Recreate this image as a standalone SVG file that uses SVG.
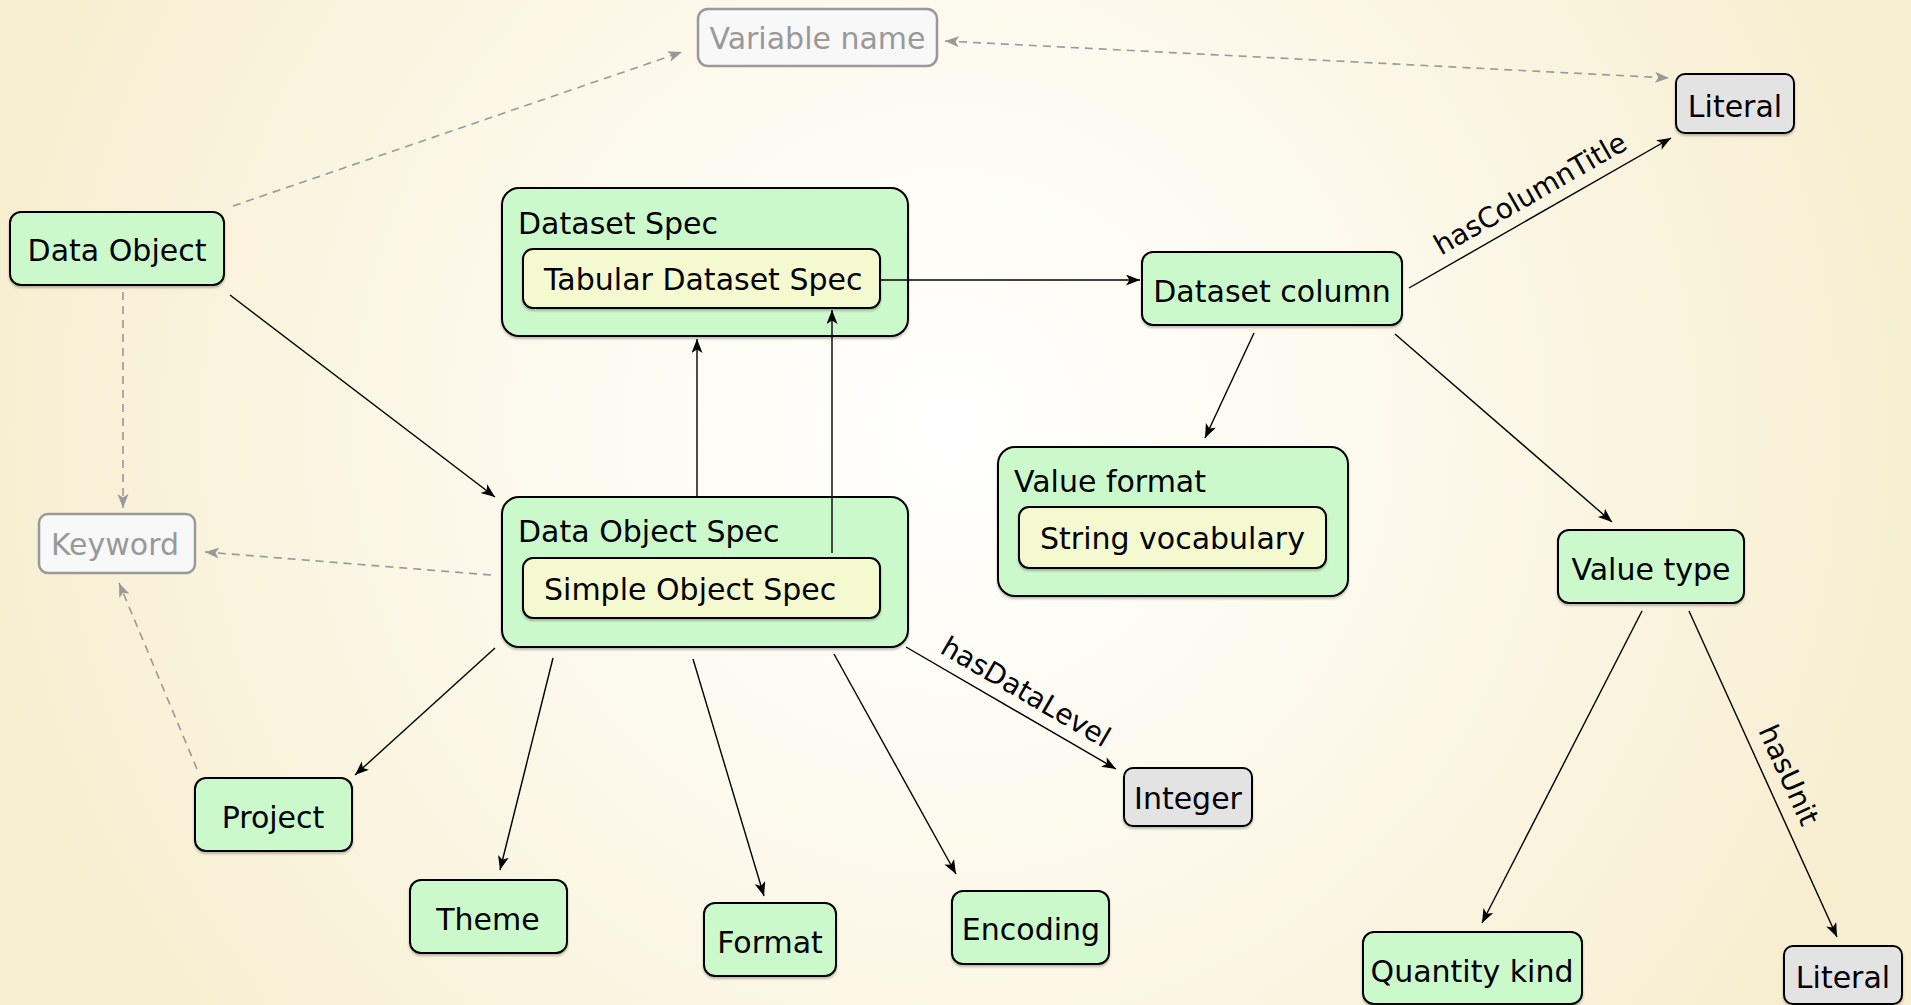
<svg xmlns="http://www.w3.org/2000/svg" width="1911" height="1005" viewBox="0 0 1911 1005">
<defs>
<radialGradient id="bg" gradientUnits="userSpaceOnUse" cx="950" cy="430" r="1000">
<stop offset="0" stop-color="#ffffff"/>
<stop offset="0.45" stop-color="#fcf9ec"/>
<stop offset="1" stop-color="#f7eecf"/>
</radialGradient>
<filter id="sh" x="-10%" y="-10%" width="120%" height="130%">
<feDropShadow dx="0" dy="2" stdDeviation="1" flood-color="#000" flood-opacity="0.25"/>
</filter>
<marker id="ah" markerUnits="userSpaceOnUse" markerWidth="16" markerHeight="12" refX="14" refY="5.5" orient="auto-start-reverse">
<path d="M0,0 L14,5.5 L0,11 L3.5,5.5 Z" fill="#000"/>
</marker>
<marker id="ag" markerUnits="userSpaceOnUse" markerWidth="16" markerHeight="12" refX="14" refY="5.5" orient="auto-start-reverse">
<path d="M0,0 L14,5.5 L0,11 L3.5,5.5 Z" fill="#999"/>
</marker>
</defs>
<style>
text{font-family:"DejaVu Sans","Liberation Sans",sans-serif;font-size:30px;fill:#000}
.lb{font-size:28px}
.g{fill:#ccf9cc;stroke:#000;stroke-width:2;filter:url(#sh)}
.y{fill:#f5f9d0;stroke:#000;stroke-width:2;filter:url(#sh)}
.l{fill:#e3e3e3;stroke:#000;stroke-width:2;filter:url(#sh)}
.v{fill:#f8f8f8;stroke:#999;stroke-width:2.5}
.vt{fill:#999}
.c{text-anchor:middle}
.e{fill:none;stroke:#000;stroke-width:1.4;marker-end:url(#ah)}
.d{fill:none;stroke:#999;stroke-width:1.6;stroke-dasharray:8 6;marker-end:url(#ag)}
</style>
<rect width="1911" height="1005" fill="url(#bg)"/>

<g id="variable-name">
<rect class="v" x="698" y="9" width="239" height="57" rx="10"/>
<text class="vt c" x="817.5" y="49">Variable name</text>
</g>
<g id="literal-top">
<rect class="l" x="1676" y="74" width="118" height="59" rx="9"/>
<text class="c" x="1735" y="117">Literal</text>
</g>
<g id="data-object">
<rect class="g" x="10" y="212" width="214" height="73" rx="11"/>
<text class="c" x="117" y="261">Data Object</text>
</g>
<g id="dataset-spec">
<rect class="g" x="502" y="188" width="406" height="148" rx="17"/>
<text x="518" y="234">Dataset Spec</text>
<g id="tabular-dataset-spec">
<rect class="y" x="523" y="249" width="357" height="59" rx="10"/>
<text x="544" y="290">Tabular Dataset Spec</text>
</g>
</g>
<g id="dataset-column">
<rect class="g" x="1142" y="252" width="260" height="73" rx="11"/>
<text class="c" x="1272" y="302">Dataset column</text>
</g>
<g id="keyword">
<rect class="v" x="39" y="514" width="156" height="59" rx="9"/>
<text class="vt c" x="115" y="555">Keyword</text>
</g>
<g id="data-object-spec">
<rect class="g" x="502" y="497" width="406" height="150" rx="17"/>
<text x="518" y="542">Data Object Spec</text>
<g id="simple-object-spec">
<rect class="y" x="523" y="558" width="357" height="60" rx="10"/>
<text x="544" y="600">Simple Object Spec</text>
</g>
</g>
<g id="value-format">
<rect class="g" x="998" y="447" width="350" height="149" rx="17"/>
<text x="1014" y="492">Value format</text>
<g id="string-vocabulary">
<rect class="y" x="1019" y="507" width="307" height="61" rx="10"/>
<text x="1040" y="549">String vocabulary</text>
</g>
</g>
<g id="value-type">
<rect class="g" x="1558" y="530" width="186" height="73" rx="11"/>
<text class="c" x="1651" y="580">Value type</text>
</g>
<g id="project">
<rect class="g" x="195" y="778" width="157" height="73" rx="11"/>
<text class="c" x="273" y="828">Project</text>
</g>
<g id="theme">
<rect class="g" x="410" y="880" width="157" height="73" rx="11"/>
<text class="c" x="488" y="930">Theme</text>
</g>
<g id="format">
<rect class="g" x="704" y="903" width="132" height="73" rx="11"/>
<text class="c" x="770" y="953">Format</text>
</g>
<g id="encoding">
<rect class="g" x="952" y="891" width="157" height="73" rx="11"/>
<text class="c" x="1031" y="940">Encoding</text>
</g>
<g id="integer">
<rect class="l" x="1124" y="768" width="128" height="58" rx="9"/>
<text class="c" x="1188" y="809">Integer</text>
</g>
<g id="quantity-kind">
<rect class="g" x="1363" y="932" width="219" height="72" rx="11"/>
<text class="c" x="1472" y="982">Quantity kind</text>
</g>
<g id="literal-bottom">
<rect class="l" x="1784" y="946" width="118" height="58" rx="9"/>
<text class="c" x="1843" y="988">Literal</text>
</g>

<g id="connectors">
<line class="d" x1="233" y1="206" x2="682" y2="52"/>
<line class="d" x1="945" y1="41" x2="1669" y2="78" style="marker-start:url(#ag)"/>
<line class="d" x1="123" y1="292" x2="123" y2="508"/>
<line class="d" x1="491" y1="575" x2="205" y2="552"/>
<line class="d" x1="197" y1="769" x2="119" y2="583"/>
<line class="e" x1="230" y1="295" x2="495" y2="497"/>
<line class="e" x1="697" y1="497" x2="697" y2="339"/>
<line class="e" x1="832" y1="553" x2="832" y2="310"/>
<line class="e" x1="880" y1="280" x2="1140" y2="280"/>
<line class="e" x1="1409" y1="288" x2="1671" y2="138"/>
<line class="e" x1="1254" y1="333" x2="1205" y2="438"/>
<line class="e" x1="1395" y1="334" x2="1612" y2="522"/>
<line class="e" x1="495" y1="648" x2="355" y2="775"/>
<line class="e" x1="553" y1="658" x2="500" y2="870"/>
<line class="e" x1="693" y1="659" x2="764" y2="896"/>
<line class="e" x1="834" y1="654" x2="956" y2="874"/>
<line class="e" x1="906" y1="647" x2="1116" y2="769"/>
<line class="e" x1="1642" y1="611" x2="1482" y2="923"/>
<line class="e" x1="1689" y1="611" x2="1837" y2="937"/>
<text x="1535" y="202" class="c lb" transform="rotate(-29.8 1535 202)">hasColumnTitle</text>
<text x="1021" y="700" class="c lb" transform="rotate(30.2 1021 700)">hasDataLevel</text>
<text x="1780" y="779" class="c lb" transform="rotate(65.6 1780 779)">hasUnit</text>
</g>
</svg>
